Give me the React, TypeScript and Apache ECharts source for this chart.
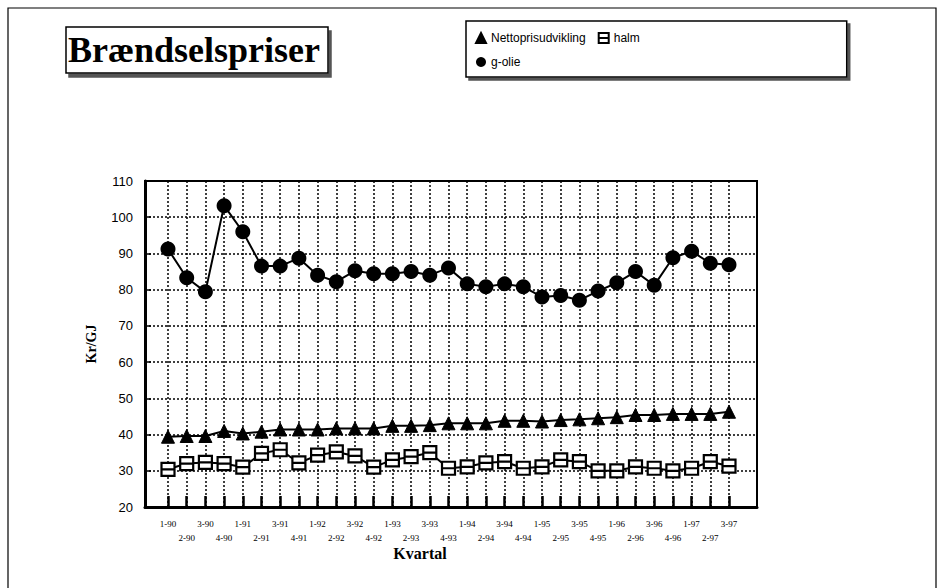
import React, { useEffect, useRef } from "react";
import * as echarts from "echarts";

const categories = [
  "1-90", "2-90", "3-90", "4-90",
  "1-91", "2-91", "3-91", "4-91",
  "1-92", "2-92", "3-92", "4-92",
  "1-93", "2-93", "3-93", "4-93",
  "1-94", "2-94", "3-94", "4-94",
  "1-95", "2-95", "3-95", "4-95",
  "1-96", "2-96", "3-96", "4-96",
  "1-97", "2-97", "3-97",
];

const netto = [
  39.4, 39.6, 39.6, 41.0, 40.3, 40.8, 41.4, 41.4,
  41.4, 41.7, 41.7, 41.7, 42.4, 42.4, 42.6, 43.1,
  43.1, 43.1, 43.8, 43.8, 43.6, 44.0, 44.2, 44.5,
  44.8, 45.4, 45.4, 45.7, 45.7, 45.7, 46.3,
];

const halm = [
  30.4, 32.0, 32.3, 32.0, 31.0, 34.8, 35.8, 32.2,
  34.3, 35.2, 34.1, 31.0, 33.0, 33.9, 35.0, 30.7,
  31.1, 32.2, 32.5, 30.7, 31.1, 33.0, 32.5, 30.0,
  30.0, 31.1, 30.7, 30.0, 30.7, 32.5, 31.3,
];

const golie = [
  91.2, 83.3, 79.4, 103.2, 96.0, 86.5, 86.5, 88.7,
  84.0, 82.2, 85.2, 84.4, 84.4, 85.0, 84.0, 86.0,
  81.6, 80.8, 81.6, 80.8, 78.0, 78.4, 77.1, 79.6,
  81.9, 85.0, 81.2, 88.8, 90.6, 87.3, 86.9,
];

const seriesNames = ["Nettoprisudvikling", "halm", "g-olie"];
const yTicks = { min: 20, max: 110, interval: 10 };

const halmSymbol = "path://M1,1 L19,1 L19,19 L1,19 Z M1,10 L19,10";

export default function App() {
  const ref = useRef<HTMLDivElement>(null);

  useEffect(() => {
    if (!ref.current) return;
    const chart = echarts.init(ref.current, null, { renderer: "svg" });
    const dotted = { color: "#000", width: 1.5, type: [2, 2] as any };

    chart.setOption({
      animation: false,
      backgroundColor: "#fff",
      title: {
        text: "Brændselspriser",
        left: 66,
        top: 27,
        padding: [5, 8, 5, 2],
        borderColor: "#000",
        borderWidth: 1.5,
        backgroundColor: "#fff",
        shadowColor: "#555",
        shadowOffsetX: 3,
        shadowOffsetY: 4,
        shadowBlur: 0,
        textStyle: {
          fontFamily: "Liberation Serif",
          fontWeight: "bold",
          fontSize: 36,
          color: "#000",
        },
      },
      legend: {
        left: 466,
        top: 21,
        width: 190,
        orient: "horizontal",
        padding: [11, 207, 9, 9],
        itemGap: 12,
        itemWidth: 10,
        itemHeight: 10,
        borderColor: "#000",
        borderWidth: 1.5,
        backgroundColor: "#fff",
        shadowColor: "#555",
        shadowOffsetX: 3,
        shadowOffsetY: 3,
        shadowBlur: 0,
        textStyle: {
          fontFamily: "Liberation Sans",
          fontSize: 12,
          color: "#000",
          padding: [0, 0, 6, 0],
        },
        data: [
          { name: seriesNames[0], icon: "triangle" },
          { name: seriesNames[1], icon: halmSymbol },
          { name: seriesNames[2], icon: "circle" },
        ],
      },
      graphic: [
        {
          type: "rect",
          z: -10,
          shape: { x: 8, y: 8, width: 928, height: 640 },
          style: { fill: "none", stroke: "#000", lineWidth: 1.2 },
        },
        {
          type: "text",
          x: 420,
          y: 553,
          style: {
            text: "Kvartal",
            fontFamily: "Liberation Serif",
            fontWeight: "bold",
            fontSize: 16,
            fill: "#000",
            align: "center",
            verticalAlign: "middle",
          },
        },
      ],
      grid: [
        {
          left: 145,
          top: 181,
          width: 612,
          height: 326,
          show: true,
          borderColor: "#000",
          borderWidth: 2,
          containLabel: false,
        },
        {
          left: 168,
          top: 181,
          width: 561,
          height: 326,
          containLabel: false,
        },
      ],
      xAxis: [
        {
          gridIndex: 0,
          type: "value",
          min: 0,
          max: 1,
          axisLine: { show: true, onZero: false, lineStyle: { color: "#000", width: 3 } },
          axisTick: { show: false },
          axisLabel: { show: false },
          splitLine: { show: false },
        },
        {
          gridIndex: 1,
          type: "category",
          boundaryGap: false,
          data: categories,
          axisLine: { show: false },
          axisTick: {
            show: true,
            inside: true,
            length: 11,
            interval: 0,
            lineStyle: { color: "#000", width: 2.5 },
          },
          axisLabel: {
            interval: 0,
            margin: 10,
            fontFamily: "Liberation Serif",
            fontSize: 9,
            lineHeight: 14,
            color: "#000",
            formatter: (v: string, i: number) => (i % 2 === 0 ? v : "\n" + v),
          },
          splitLine: { show: true, interval: 0, lineStyle: dotted },
        },
      ],
      yAxis: [
        {
          gridIndex: 0,
          type: "value",
          min: yTicks.min,
          max: yTicks.max,
          interval: yTicks.interval,
          name: "Kr/GJ",
          nameLocation: "middle",
          nameRotate: 90,
          nameGap: 47,
          nameTextStyle: {
            fontFamily: "Liberation Serif",
            fontWeight: "bold",
            fontSize: 14,
            color: "#000",
          },
          axisLine: { show: true, lineStyle: { color: "#000", width: 3 } },
          axisTick: { show: true, inside: true, length: 6, lineStyle: { color: "#000", width: 1.5 } },
          axisLabel: {
            fontFamily: "Liberation Sans",
            fontSize: 13,
            color: "#000",
            margin: 12,
          },
          splitLine: { show: true, lineStyle: dotted },
        },
        {
          gridIndex: 1,
          type: "value",
          min: yTicks.min,
          max: yTicks.max,
          interval: yTicks.interval,
          show: false,
          splitLine: { show: false },
        },
      ],
      series: [
        {
          name: seriesNames[0],
          type: "line",
          xAxisIndex: 1,
          yAxisIndex: 1,
          data: netto,
          symbol: "triangle",
          symbolSize: 13,
          lineStyle: { color: "#000", width: 2 },
          itemStyle: { color: "#000", borderColor: "#000", borderWidth: 1 },
          z: 5,
        },
        {
          name: seriesNames[1],
          type: "line",
          xAxisIndex: 1,
          yAxisIndex: 1,
          data: halm,
          symbol: halmSymbol,
          symbolSize: 13,
          lineStyle: { color: "#000", width: 2 },
          itemStyle: { color: "#fff", borderColor: "#000", borderWidth: 2.2 },
          z: 5,
        },
        {
          name: seriesNames[2],
          type: "line",
          xAxisIndex: 1,
          yAxisIndex: 1,
          data: golie,
          symbol: "circle",
          symbolSize: 15,
          lineStyle: { color: "#000", width: 2 },
          itemStyle: { color: "#000" },
          z: 5,
        },
      ],
    });

    return () => chart.dispose();
  }, []);

  return (
    <div
      ref={ref}
      style={{ position: "absolute", left: 0, top: 0, width: 945, height: 588 }}
    />
  );
}
